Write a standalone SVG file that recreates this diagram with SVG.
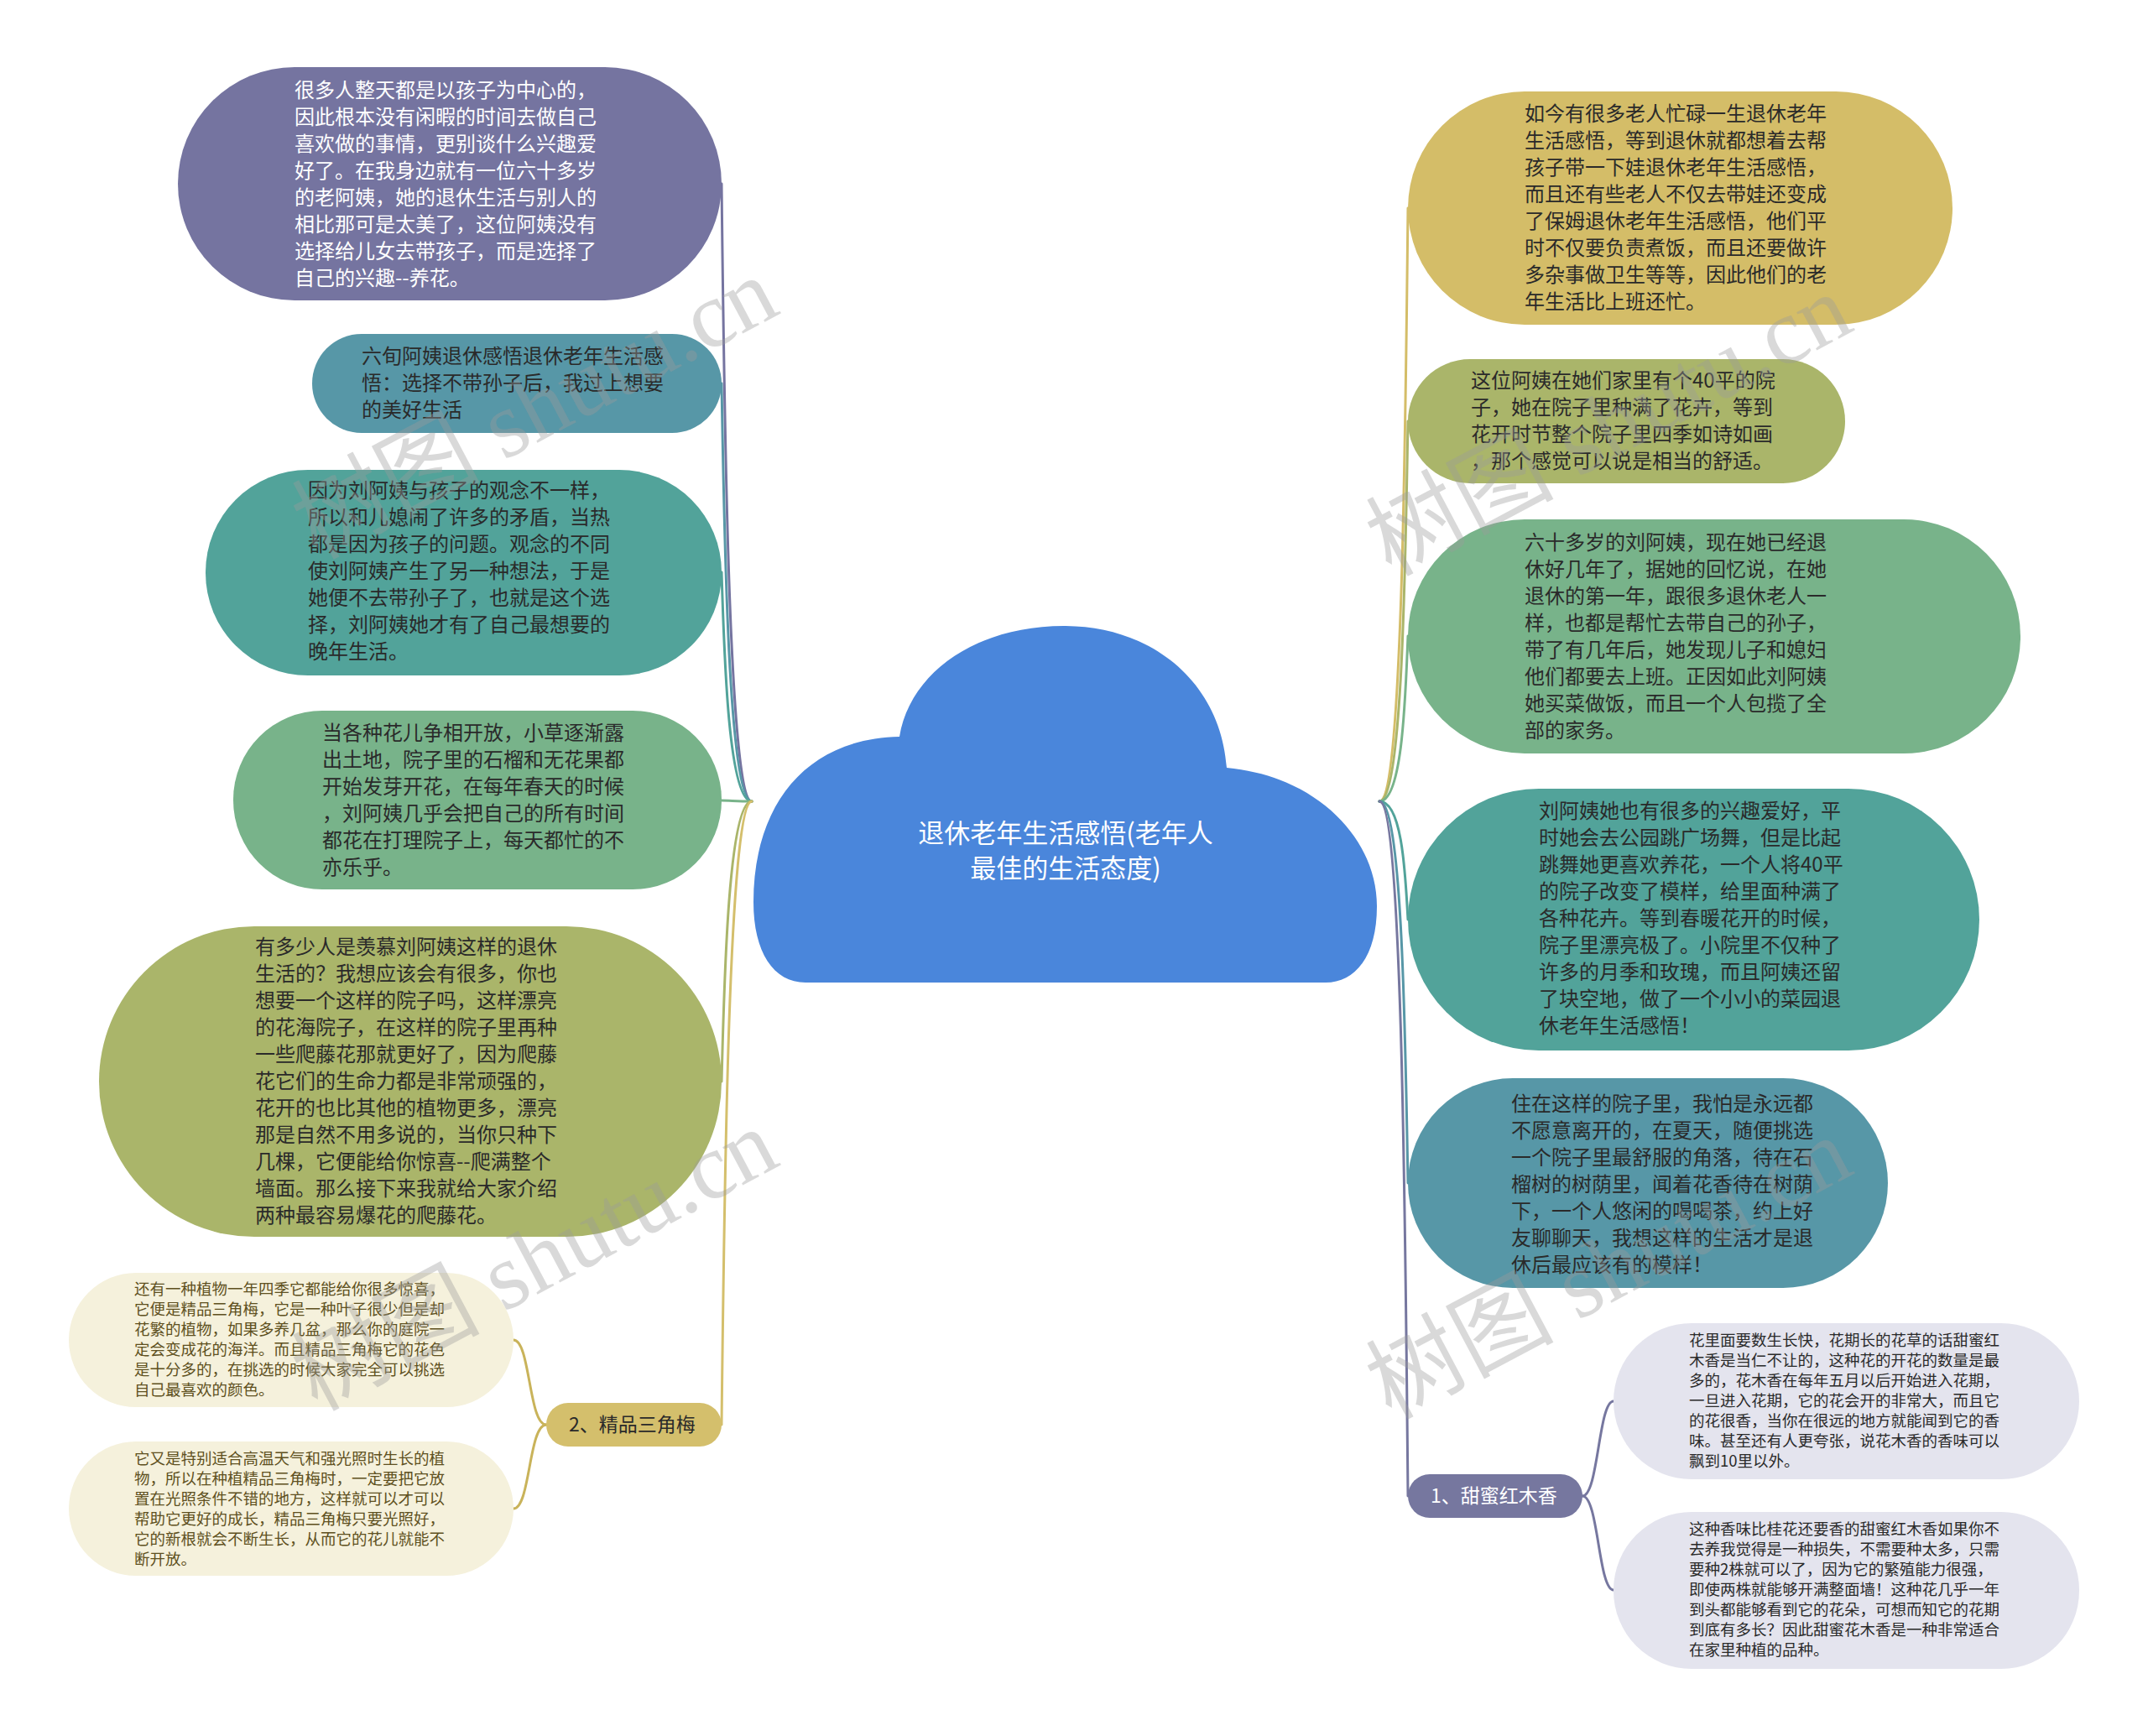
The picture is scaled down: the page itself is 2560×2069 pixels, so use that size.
<svg xmlns="http://www.w3.org/2000/svg" width="2560" height="2069" viewBox="0 0 2560 2069">
<style>
.t{font-family:"Noto Sans CJK SC","Noto Sans",sans-serif;font-size:24px;fill:#2a2a2a}
.w{fill:#ffffff}
.s{font-size:18.5px}
.cr{fill:#5e5020}
.c{fill:none;stroke-width:3;stroke-linecap:round}
.wm{font-family:"Liberation Serif","Noto Sans CJK SC",serif;font-size:112px;fill:#9a9a9a;fill-opacity:0.38}
</style>
<rect width="2560" height="2069" fill="#ffffff"/>
<g id="connectors">
<path class="c" stroke="#7574a0" d="M896,955 C868,955 863,477 860,219"/>
<path class="c" stroke="#5797a7" d="M896,955 C868,955 863,631 860,457"/>
<path class="c" stroke="#52a39a" d="M896,955 C868,955 863,778 860,682"/>
<path class="c" stroke="#78b38a" d="M896,955 C878,955 870,954 860,954"/>
<path class="c" stroke="#aab56a" d="M896,955 C868,955 863,1172 860,1289"/>
<path class="c" stroke="#d4bf6c" d="M896,955 C868,955 863,1438 860,1698"/>
<path class="c" stroke="#c9b35a" d="M651,1698 C630,1698 632,1597 612,1597"/>
<path class="c" stroke="#c9b35a" d="M651,1698 C630,1698 632,1798 612,1798"/>
<path class="c" stroke="#d4bd68" d="M1644,955 C1672,955 1675,495 1678,248"/>
<path class="c" stroke="#aab56a" d="M1644,955 C1672,955 1675,661 1678,502"/>
<path class="c" stroke="#78b38a" d="M1644,955 C1672,955 1675,827 1678,758"/>
<path class="c" stroke="#52a39a" d="M1644,955 C1672,955 1675,1047 1678,1096"/>
<path class="c" stroke="#5797a7" d="M1644,955 C1672,955 1675,1251 1678,1410"/>
<path class="c" stroke="#76779f" d="M1644,955 C1672,955 1675,1493 1678,1783"/>
<path class="c" stroke="#76779f" d="M1886,1783 C1905,1783 1905,1670 1923,1670"/>
<path class="c" stroke="#76779f" d="M1886,1783 C1905,1783 1905,1895 1923,1895"/>
</g>
<g id="center">
<path fill="#4a86db" d="M960,1171 C922,1171 898,1135 898,1075 C898,960 960,880 1072,878 C1085,800 1165,746 1268,746 C1375,746 1455,815 1462,915 C1570,925 1641,1000 1641,1080 C1641,1140 1615,1171 1580,1171 Z"/>
<text class="t w" text-anchor="middle" style="font-size:31px"><tspan x="1270" y="1004">退休老年生活感悟(老年人</tspan><tspan x="1270" y="1046">最佳的生活态度)</tspan></text>
</g>
<g id="n1">
<rect x="212" y="80" width="648" height="278" rx="139" fill="#7574a0"/>
<text class="t w"><tspan x="351" y="116">很多人整天都是以孩子为中心的，</tspan><tspan x="351" y="148">因此根本没有闲暇的时间去做自己</tspan><tspan x="351" y="180">喜欢做的事情，更别谈什么兴趣爱</tspan><tspan x="351" y="212">好了。在我身边就有一位六十多岁</tspan><tspan x="351" y="244">的老阿姨，她的退休生活与别人的</tspan><tspan x="351" y="276">相比那可是太美了，这位阿姨没有</tspan><tspan x="351" y="308">选择给儿女去带孩子，而是选择了</tspan><tspan x="351" y="340">自己的兴趣--养花。</tspan></text>
</g>
<g id="n2">
<rect x="372" y="398" width="488" height="118" rx="59" fill="#5797a7"/>
<text class="t"><tspan x="431" y="433">六旬阿姨退休感悟退休老年生活感</tspan><tspan x="431" y="465">悟：选择不带孙子后，我过上想要</tspan><tspan x="431" y="497">的美好生活</tspan></text>
</g>
<g id="n3">
<rect x="245" y="560" width="615" height="245" rx="122" fill="#52a39a"/>
<text class="t"><tspan x="367" y="593">因为刘阿姨与孩子的观念不一样，</tspan><tspan x="367" y="625">所以和儿媳闹了许多的矛盾，当热</tspan><tspan x="367" y="657">都是因为孩子的问题。观念的不同</tspan><tspan x="367" y="689">使刘阿姨产生了另一种想法，于是</tspan><tspan x="367" y="721">她便不去带孙子了，也就是这个选</tspan><tspan x="367" y="753">择，刘阿姨她才有了自己最想要的</tspan><tspan x="367" y="785">晚年生活。</tspan></text>
</g>
<g id="n4">
<rect x="278" y="847" width="582" height="213" rx="106" fill="#78b38a"/>
<text class="t"><tspan x="384" y="882">当各种花儿争相开放，小草逐渐露</tspan><tspan x="384" y="914">出土地，院子里的石榴和无花果都</tspan><tspan x="384" y="946">开始发芽开花，在每年春天的时候</tspan><tspan x="384" y="978">，刘阿姨几乎会把自己的所有时间</tspan><tspan x="384" y="1010">都花在打理院子上，每天都忙的不</tspan><tspan x="384" y="1042">亦乐乎。</tspan></text>
</g>
<g id="n5">
<rect x="118" y="1104" width="742" height="370" rx="185" fill="#aab56a"/>
<text class="t"><tspan x="304" y="1137">有多少人是羡慕刘阿姨这样的退休</tspan><tspan x="304" y="1169">生活的？我想应该会有很多，你也</tspan><tspan x="304" y="1201">想要一个这样的院子吗，这样漂亮</tspan><tspan x="304" y="1233">的花海院子，在这样的院子里再种</tspan><tspan x="304" y="1265">一些爬藤花那就更好了，因为爬藤</tspan><tspan x="304" y="1297">花它们的生命力都是非常顽强的，</tspan><tspan x="304" y="1329">花开的也比其他的植物更多，漂亮</tspan><tspan x="304" y="1361">那是自然不用多说的，当你只种下</tspan><tspan x="304" y="1393">几棵，它便能给你惊喜--爬满整个</tspan><tspan x="304" y="1425">墙面。那么接下来我就给大家介绍</tspan><tspan x="304" y="1457">两种最容易爆花的爬藤花。</tspan></text>
</g>
<g id="b2">
<rect x="651" y="1672" width="209" height="52" rx="26" fill="#d4bf6c"/>
<text class="t" style="font-size:23px"><tspan x="678" y="1706">2、精品三角梅</tspan></text>
</g>
<g id="c1">
<rect x="82" y="1517" width="530" height="160" rx="80" fill="#f5f1dc"/>
<text class="t s cr"><tspan x="160" y="1543">还有一种植物一年四季它都能给你很多惊喜，</tspan><tspan x="160" y="1567">它便是精品三角梅，它是一种叶子很少但是却</tspan><tspan x="160" y="1591">花繁的植物，如果多养几盆，那么你的庭院一</tspan><tspan x="160" y="1615">定会变成花的海洋。而且精品三角梅它的花色</tspan><tspan x="160" y="1639">是十分多的，在挑选的时候大家完全可以挑选</tspan><tspan x="160" y="1663">自己最喜欢的颜色。</tspan></text>
</g>
<g id="c2">
<rect x="82" y="1718" width="530" height="160" rx="80" fill="#f5f1dc"/>
<text class="t s cr"><tspan x="160" y="1745">它又是特别适合高温天气和强光照时生长的植</tspan><tspan x="160" y="1769">物，所以在种植精品三角梅时，一定要把它放</tspan><tspan x="160" y="1793">置在光照条件不错的地方，这样就可以才可以</tspan><tspan x="160" y="1817">帮助它更好的成长，精品三角梅只要光照好，</tspan><tspan x="160" y="1841">它的新根就会不断生长，从而它的花儿就能不</tspan><tspan x="160" y="1865">断开放。</tspan></text>
</g>
<g id="r1">
<rect x="1678" y="109" width="649" height="278" rx="139" fill="#d4bd68"/>
<text class="t"><tspan x="1817" y="144">如今有很多老人忙碌一生退休老年</tspan><tspan x="1817" y="176">生活感悟，等到退休就都想着去帮</tspan><tspan x="1817" y="208">孩子带一下娃退休老年生活感悟，</tspan><tspan x="1817" y="240">而且还有些老人不仅去带娃还变成</tspan><tspan x="1817" y="272">了保姆退休老年生活感悟，他们平</tspan><tspan x="1817" y="304">时不仅要负责煮饭，而且还要做许</tspan><tspan x="1817" y="336">多杂事做卫生等等，因此他们的老</tspan><tspan x="1817" y="368">年生活比上班还忙。</tspan></text>
</g>
<g id="r2">
<rect x="1678" y="428" width="521" height="148" rx="74" fill="#aab56a"/>
<text class="t"><tspan x="1753" y="462">这位阿姨在她们家里有个40平的院</tspan><tspan x="1753" y="494">子，她在院子里种满了花卉，等到</tspan><tspan x="1753" y="526">花开时节整个院子里四季如诗如画</tspan><tspan x="1753" y="558">，那个感觉可以说是相当的舒适。</tspan></text>
</g>
<g id="r3">
<rect x="1678" y="619" width="730" height="279" rx="139" fill="#78b38a"/>
<text class="t"><tspan x="1817" y="655">六十多岁的刘阿姨，现在她已经退</tspan><tspan x="1817" y="687">休好几年了，据她的回忆说，在她</tspan><tspan x="1817" y="719">退休的第一年，跟很多退休老人一</tspan><tspan x="1817" y="751">样，也都是帮忙去带自己的孙子，</tspan><tspan x="1817" y="783">带了有几年后，她发现儿子和媳妇</tspan><tspan x="1817" y="815">他们都要去上班。正因如此刘阿姨</tspan><tspan x="1817" y="847">她买菜做饭，而且一个人包揽了全</tspan><tspan x="1817" y="879">部的家务。</tspan></text>
</g>
<g id="r4">
<rect x="1678" y="940" width="681" height="312" rx="156" fill="#52a39a"/>
<text class="t"><tspan x="1834" y="975">刘阿姨她也有很多的兴趣爱好，平</tspan><tspan x="1834" y="1007">时她会去公园跳广场舞，但是比起</tspan><tspan x="1834" y="1039">跳舞她更喜欢养花，一个人将40平</tspan><tspan x="1834" y="1071">的院子改变了模样，给里面种满了</tspan><tspan x="1834" y="1103">各种花卉。等到春暖花开的时候，</tspan><tspan x="1834" y="1135">院子里漂亮极了。小院里不仅种了</tspan><tspan x="1834" y="1167">许多的月季和玫瑰，而且阿姨还留</tspan><tspan x="1834" y="1199">了块空地，做了一个小小的菜园退</tspan><tspan x="1834" y="1231">休老年生活感悟！</tspan></text>
</g>
<g id="r5">
<rect x="1678" y="1285" width="572" height="250" rx="125" fill="#5797a7"/>
<text class="t"><tspan x="1801" y="1324">住在这样的院子里，我怕是永远都</tspan><tspan x="1801" y="1356">不愿意离开的，在夏天，随便挑选</tspan><tspan x="1801" y="1388">一个院子里最舒服的角落，待在石</tspan><tspan x="1801" y="1420">榴树的树荫里，闻着花香待在树荫</tspan><tspan x="1801" y="1452">下，一个人悠闲的喝喝茶，约上好</tspan><tspan x="1801" y="1484">友聊聊天，我想这样的生活才是退</tspan><tspan x="1801" y="1516">休后最应该有的模样！</tspan></text>
</g>
<g id="b1">
<rect x="1678" y="1757" width="208" height="52" rx="26" fill="#76779f"/>
<text class="t w" style="font-size:23px"><tspan x="1705" y="1791">1、甜蜜红木香</tspan></text>
</g>
<g id="l1">
<rect x="1923" y="1577" width="555" height="186" rx="93" fill="#e4e4ee"/>
<text class="t s"><tspan x="2013" y="1604">花里面要数生长快，花期长的花草的话甜蜜红</tspan><tspan x="2013" y="1628">木香是当仁不让的，这种花的开花的数量是最</tspan><tspan x="2013" y="1652">多的，花木香在每年五月以后开始进入花期，</tspan><tspan x="2013" y="1676">一旦进入花期，它的花会开的非常大，而且它</tspan><tspan x="2013" y="1700">的花很香，当你在很远的地方就能闻到它的香</tspan><tspan x="2013" y="1724">味。甚至还有人更夸张，说花木香的香味可以</tspan><tspan x="2013" y="1748">飘到10里以外。</tspan></text>
</g>
<g id="l2">
<rect x="1923" y="1802" width="555" height="187" rx="93" fill="#e4e4ee"/>
<text class="t s"><tspan x="2013" y="1829">这种香味比桂花还要香的甜蜜红木香如果你不</tspan><tspan x="2013" y="1853">去养我觉得是一种损失，不需要种太多，只需</tspan><tspan x="2013" y="1877">要种2株就可以了，因为它的繁殖能力很强，</tspan><tspan x="2013" y="1901">即使两株就能够开满整面墙！这种花几乎一年</tspan><tspan x="2013" y="1925">到头都能够看到它的花朵，可想而知它的花期</tspan><tspan x="2013" y="1949">到底有多长？因此甜蜜花木香是一种非常适合</tspan><tspan x="2013" y="1973">在家里种植的品种。</tspan></text>
</g>
<g id="watermark">
<text class="wm" text-anchor="middle" transform="translate(655,520) rotate(-28)">树图 shutu.cn</text>
<text class="wm" text-anchor="middle" transform="translate(655,1535) rotate(-28)">树图 shutu.cn</text>
<text class="wm" text-anchor="middle" transform="translate(1935,540) rotate(-28)">树图 shutu.cn</text>
<text class="wm" text-anchor="middle" transform="translate(1935,1545) rotate(-28)">树图 shutu.cn</text>
</g>
</svg>
